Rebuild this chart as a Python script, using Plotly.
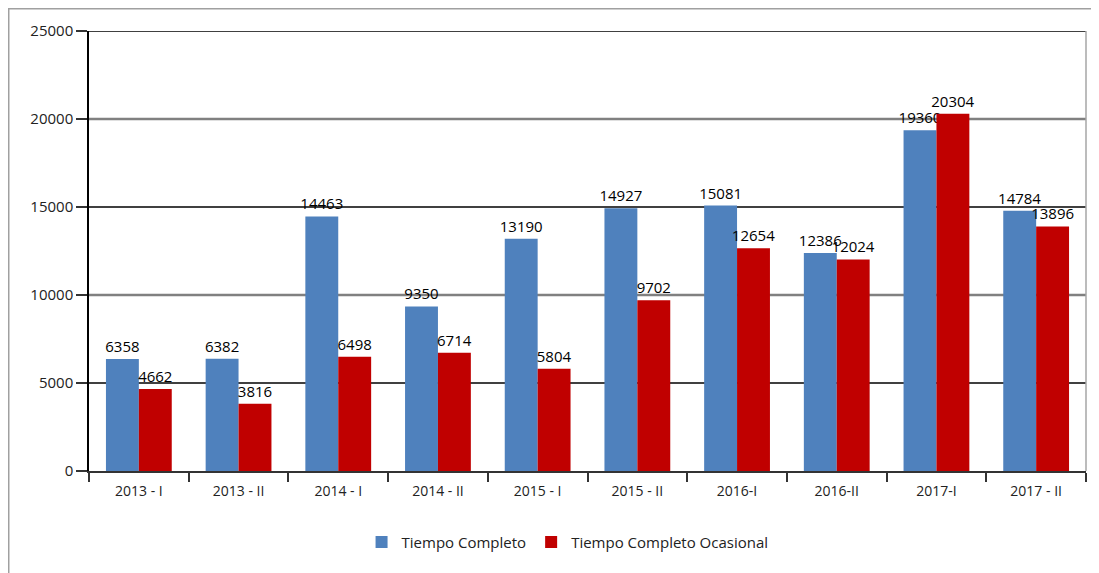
import plotly.graph_objects as go

categories = ["2013 - I", "2013 - II", "2014 - I", "2014 - II", "2015 - I",
              "2015 - II", "2016-I", "2016-II", "2017-I", "2017 - II"]
tiempo_completo = [6358, 6382, 14463, 9350, 13190, 14927, 15081, 12386, 19360, 14784]
tiempo_ocasional = [4662, 3816, 6498, 6714, 5804, 9702, 12654, 12024, 20304, 13896]
y_ticks = [0, 5000, 10000, 15000, 20000, 25000]

FONT = "Open Sans"
fig = go.Figure()
fig.add_trace(go.Bar(
    x=categories, y=tiempo_completo, name="Tiempo Completo",
    marker=dict(color="#4F81BD", line=dict(width=0)),
    text=[str(v) for v in tiempo_completo], textposition="outside",
    textfont=dict(color="black", size=15, family=FONT),
    constraintext="none", cliponaxis=False,
))
fig.add_trace(go.Bar(
    x=categories, y=tiempo_ocasional, name="Tiempo Completo Ocasional",
    marker=dict(color="#C00000", line=dict(width=0)),
    text=[str(v) for v in tiempo_ocasional], textposition="outside",
    textfont=dict(color="black", size=15, family=FONT),
    constraintext="none", cliponaxis=False,
))

shapes = []
for t in y_ticks[1:]:
    thick = (t % 10000 == 0)
    shapes.append(dict(type="line", xref="paper", yref="y", x0=0, x1=1, y0=t, y1=t,
                       layer="below",
                       line=dict(color="#808080" if thick else "#000000",
                                 width=2.5 if thick else 1.3)))
# right border of plot area
shapes.append(dict(type="line", xref="paper", yref="paper", x0=1, x1=1, y0=0, y1=1,
                   line=dict(color="#A6A6A6", width=1.5), layer="below"))
# outer chart border (left & top)
shapes.append(dict(type="rect", xref="paper", yref="paper", x0=-0.0805, x1=1.2,
                   y0=-0.4, y1=1.0505, line=dict(color="#A0A0A0", width=1.5),
                   layer="below"))

fig.update_layout(
    width=1091, height=565,
    margin=dict(l=81, r=13, t=23, b=102),
    paper_bgcolor="white", plot_bgcolor="white",
    barmode="group", bargap=0.34, bargroupgap=0,
    font=dict(family=FONT, size=14, color="#222222"),
    shapes=shapes,
    showlegend=True,
    legend=dict(orientation="h", x=0.48, xanchor="center", y=-0.162, yanchor="middle",
                font=dict(size=15, family=FONT, color="#222222"),
                itemwidth=30, tracegroupgap=0),
    xaxis=dict(type="category", showgrid=False, showline=True, linecolor="#333333",
               linewidth=1.5, ticks="outside", tickson="boundaries", ticklen=9,
               tickcolor="#333333", tickwidth=1.5, ticklabelstandoff=6,
               tickfont=dict(size=14, family=FONT, color="#222222")),
    yaxis=dict(range=[0, 25000], tickvals=y_ticks, tickformat="d",
               showgrid=False, zeroline=False,
               showline=True, linecolor="#000000", linewidth=1.5,
               ticks="outside", ticklen=11, tickcolor="#333333", tickwidth=1.5,
               tickfont=dict(size=15, family=FONT, color="#222222")),
)

fig.write_html("out.html")
